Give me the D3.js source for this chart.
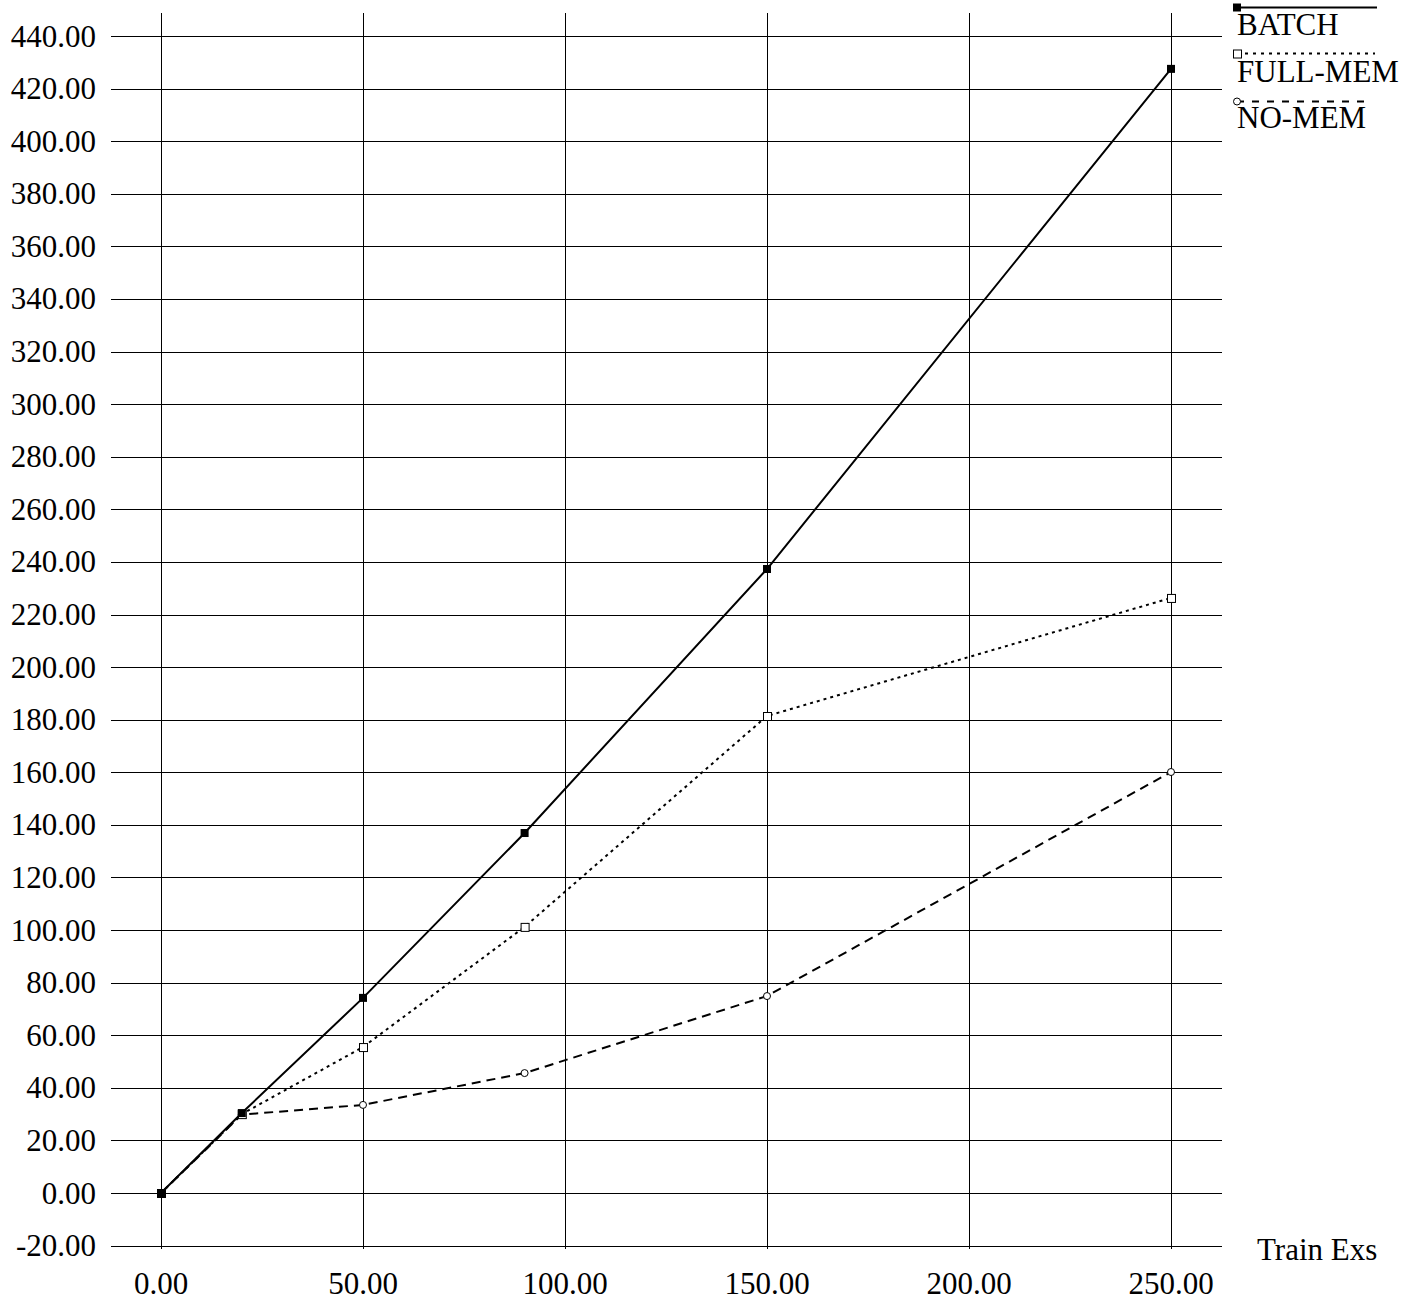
<!DOCTYPE html>
<html><head><meta charset="utf-8">
<script src="https://cdn.jsdelivr.net/npm/d3@7"></script>
<style>body{margin:0;background:#fff}svg{display:block}text{font-family:"Liberation Serif","Times New Roman",serif;fill:#000}</style>
</head><body>
<script>
const xTicks = [0, 50, 100, 150, 200, 250];
const yTicks = [-20,0,20,40,60,80,100,120,140,160,180,200,220,240,260,280,300,320,340,360,380,400,420,440];
const trainExs = [0, 20, 50, 90, 150, 250];
const batch   = [0, 30.4, 74.2, 136.9, 237.3, 427.5];
const fullMem = [0, 30, 55.5, 101.2, 181.4, 226.3];
const noMem   = [0, 29.8, 33.5, 45.6, 74.9, 160.1];
const seriesNames = ["BATCH", "FULL-MEM", "NO-MEM"];
const xLabel = "Train Exs";

const W = 1423, H = 1304, FS = 31;
const svg = d3.select("body").append("svg").attr("width", W).attr("height", H);
const x = d3.scaleLinear().domain([0, 250]).range([161, 1171]);
const y = d3.scaleLinear().domain([0, 440]).range([1193, 36]);
const fmt = d => d3.format(".2f")(d).replace("\u2212", "-");

// horizontal grid
svg.append("g").selectAll("line").data(yTicks).join("line")
  .attr("x1", 111).attr("x2", 1222)
  .attr("y1", d => Math.round(y(d)) + 0.5).attr("y2", d => Math.round(y(d)) + 0.5)
  .attr("stroke", "#000").attr("stroke-width", 1);
// vertical grid
svg.append("g").selectAll("line").data(xTicks).join("line")
  .attr("y1", 13).attr("y2", 1249)
  .attr("x1", d => Math.round(x(d)) + 0.5).attr("x2", d => Math.round(x(d)) + 0.5)
  .attr("stroke", "#000").attr("stroke-width", 1);

// y labels
svg.append("g").selectAll("text").data(yTicks).join("text")
  .attr("x", 96).attr("y", d => y(d) + 10.5).attr("text-anchor", "end")
  .attr("font-size", FS).text(d => fmt(d));
// x labels
svg.append("g").selectAll("text").data(xTicks).join("text")
  .attr("x", d => x(d)).attr("y", 1294).attr("text-anchor", "middle")
  .attr("font-size", FS).text(d => fmt(d));
svg.append("text").attr("x", 1257).attr("y", 1260).attr("font-size", FS).text(xLabel);

const series = [
  {name: seriesNames[0], vals: batch, dash: null, legDash: null, marker: "fsq"},
  {name: seriesNames[1], vals: fullMem, dash: "3,4", legDash: "3,5", marker: "osq"},
  {name: seriesNames[2], vals: noMem, dash: "9,6", legDash: "7,8", marker: "circ"}
];
const line = d3.line().x(d => x(d[0])).y(d => y(d[1]));

function marker(g, m, cx, cy) {
  if (m === "fsq") g.append("rect").attr("x", cx - 4).attr("y", cy - 4).attr("width", 8).attr("height", 8).attr("fill", "#000");
  else if (m === "osq") g.append("rect").attr("x", cx - 3.5).attr("y", cy - 3.5).attr("width", 8).attr("height", 8).attr("fill", "#fff").attr("stroke", "#000").attr("stroke-width", 1);
  else g.append("circle").attr("cx", cx).attr("cy", cy).attr("r", 3.5).attr("fill", "#fff").attr("stroke", "#000").attr("stroke-width", 1);
}

// draw in reverse so BATCH on top
[...series].reverse().forEach(s => {
  const pts = trainExs.map((t, i) => [t, s.vals[i]]);
  svg.append("path").attr("d", line(pts)).attr("fill", "none").attr("stroke", "#000")
    .attr("stroke-width", 2).attr("stroke-dasharray", s.dash);
  const g = svg.append("g");
  pts.forEach(p => marker(g, s.marker, x(p[0]), y(p[1])));
});

// legend
const legY = [7.5, 53.5, 101.5];
const legTextY = [35, 82, 128];
const legEnd = [1377, 1375, 1372];
series.forEach((s, i) => {
  svg.append("line").attr("x1", 1237).attr("x2", legEnd[i]).attr("y1", legY[i]).attr("y2", legY[i])
    .attr("stroke", "#000").attr("stroke-width", 2).attr("stroke-dasharray", s.legDash);
  const g = svg.append("g");
  marker(g, s.marker, 1237, legY[i]);
  svg.append("text").attr("x", 1237).attr("y", legTextY[i]).attr("font-size", FS).text(s.name);
});
</script>
</body></html>
